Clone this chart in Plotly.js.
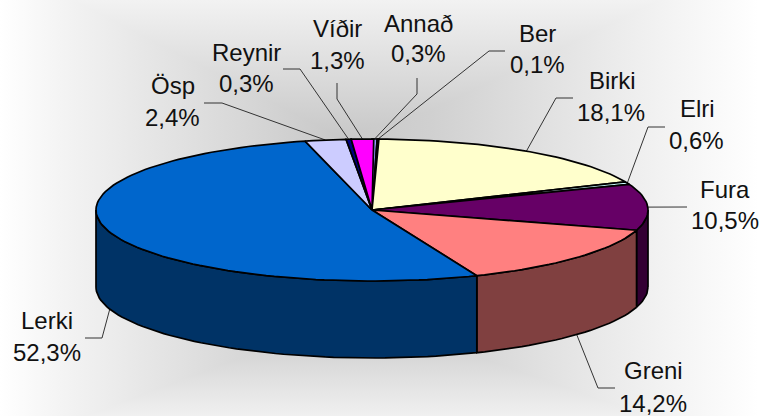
<!DOCTYPE html>
<html>
<head>
<meta charset="utf-8">
<script src="https://cdn.plot.ly/plotly-3.0.1.min.js"></script>
<style>
html,body{margin:0;padding:0;background:#fff;}
#chart{width:759px;height:416px;
background-image:
 linear-gradient(to right,#ffffff 0px,#f4f4f4 60px,#c8c8c8 340px,#d0d0d0 430px,#f2f2f2 660px,#ffffff 759px),
 linear-gradient(to bottom,#f2f2f2 0px,#c4c4c4 150px,#cccccc 330px,#f0f0f0 416px);
background-blend-mode:lighten;}
</style>
</head>
<body>
<div id="chart"></div>
<script>
// Data
const categories = ['Annað','Ber','Birki','Elri','Fura','Greni','Lerki','Ösp','Reynir','Víðir'];
const values     = [0.3,0.1,18.1,0.6,10.5,14.2,52.3,2.4,0.3,1.3];
// Styles
const topColors  = ['#9999FF','#993366','#FFFFCC','#CCFFFF','#660066','#FF8080','#0066CC','#CCCCFF','#000080','#FF00FF'];
const sideColors = ['#4D4D80','#4D1A33','#808066','#668080','#330033','#804040','#003366','#666680','#000040','#800080'];
// Layout of the pie on the page axes
const cx = 372, cy = 210, rx = 276, ry = 71, depth = 77;
// Label layout: name centre, value centre, leader start, leader elbow
const nameX  = [418,537,612,697,725,653,47,173,246,337];
const nameY  = [23,33,80,108,189,370,320,85,52,28];
const valueX = [418,537,611,696,725,653,47,172,246,337];
const valueY = [53,64,112,140,220,403,352,117,83,60];
const startX = [417,505,573,665,687,615,85,204,283,337];
const startY = [78,51,98,127,207,388,338,103,69,83];
const elbowX = [417,489,556,648,649,598,102,222,300,337];
const elbowY = [94,51,98,127,207,388,338,103,69,99];

const toRad = p => p / 100 * 2 * Math.PI;
const px = p => cx + rx * Math.sin(toRad(p));
const py = p => cy - ry * Math.cos(toRad(p));
function arc(a, b) {
  const n = Math.max(2, Math.ceil((b - a) * 2));
  const out = [];
  for (let i = 0; i <= n; i++) out.push(a + (b - a) * i / n);
  return out;
}
const line = {color:'#000', width:1.7};
const base = {type:'scatter', mode:'lines', hoverinfo:'skip', showlegend:false};
const sides = [], tops = [], leaders = [], annotations = [];
let acc = 0;
const font = {family:'"Liberation Sans", Arial, sans-serif', size:24, color:'#111'};
categories.forEach((name, i) => {
  const a = acc, b = acc + values[i], mid = (a + b) / 2;
  acc = b;
  // visible outer wall: front half only
  const fa = Math.max(a, 25), fb = Math.min(b, 75);
  if (fb > fa) {
    const ps = arc(fa, fb);
    sides.push(Object.assign({}, base, {
      x: ps.map(px).concat(ps.slice().reverse().map(px)).concat([px(fa)]),
      y: ps.map(p => py(p) + depth).concat(ps.slice().reverse().map(py)).concat([py(fa) + depth]),
      fill:'toself', fillcolor:sideColors[i], line
    }));
  }
  const ps = arc(a, b);
  tops.push(Object.assign({}, base, {
    x: [cx].concat(ps.map(px)).concat([cx]),
    y: [cy].concat(ps.map(py)).concat([cy]),
    fill:'toself', fillcolor:topColors[i], line
  }));
  const ax = px(mid), ay = py(mid) + (mid > 25 && mid < 75 ? depth : 0);
  leaders.push(Object.assign({}, base, {
    x:[startX[i], elbowX[i], ax], y:[startY[i], elbowY[i], ay],
    line:{color:'#333', width:1}
  }));
  annotations.push({x:nameX[i], y:nameY[i], text:name, showarrow:false, xanchor:'center', yanchor:'middle', font});
  annotations.push({x:valueX[i], y:valueY[i], text:values[i].toFixed(1).replace('.', ',') + '%', showarrow:false, xanchor:'center', yanchor:'middle', font});
});
const axis = {visible:false, fixedrange:true};
Plotly.newPlot('chart', leaders.concat(sides, tops), {
  width:759, height:416,
  margin:{l:0,r:0,t:0,b:0},
  paper_bgcolor:'rgba(0,0,0,0)', plot_bgcolor:'rgba(0,0,0,0)',
  xaxis:Object.assign({range:[0,759]}, axis),
  yaxis:Object.assign({range:[416,0]}, axis),
  annotations
}, {displayModeBar:false, staticPlot:true});
</script>
</body>
</html>
